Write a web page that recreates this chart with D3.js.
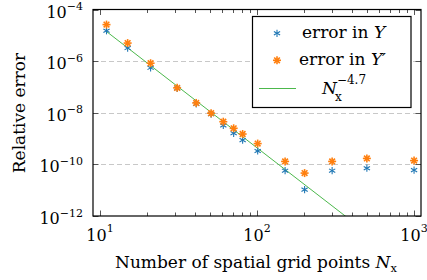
<!DOCTYPE html>
<html>
<head>
<meta charset="utf-8">
<script src="https://cdn.jsdelivr.net/npm/d3@7"></script>
<style>
  body { margin: 0; background: #fff; }
</style>
</head>
<body>
<svg id="chart" width="427" height="280"></svg>
<script>
// grid sizes and errors
var nPoints = [11, 15, 21, 31, 41, 51, 61, 71, 81, 101, 151, 201, 301, 501, 1001];
var errY = [1.5e-5, 3.2e-6, 5.5e-7, 8.7e-8, 2.2e-8, 8.8e-9, 3.2e-9, 1.6e-9, 8.7e-10, 3.3e-10, 5.7e-11, 1.05e-11, 5.7e-11, 7.1e-11, 6.0e-11];
var errYp = [2.6e-5, 5.0e-6, 8.3e-7, 9.2e-8, 2.4e-8, 9.6e-9, 4.5e-9, 2.5e-9, 1.5e-9, 6.4e-10, 1.3e-10, 4.6e-11, 1.3e-10, 1.7e-10, 1.4e-10];
var fitRange = [11, 1001];
var fitCoef = 1.1;
var fitOrder = -4.7;
var xMajor = [1, 2, 3];
var yMajor = [-4, -6, -8, -10, -12];
var yGrid = [-6, -8, -10];

var blue = "#1f77b4", orange = "#ff7f0e", green = "#4cb84c";
var serif = "DejaVu Serif";

var svg = d3.select("#chart");
var plotLeft = 93, plotRight = 421, plotTop = 9.5, plotBottom = 216;

var x = d3.scaleLog().domain([Math.pow(10, 0.9554), Math.pow(10, 3.0446)]).range([plotLeft, plotRight]);
var y = d3.scaleLog().domain([1e-12, 1e-4]).range([plotBottom, plotTop]);

// grid
svg.append("g").selectAll("line")
  .data(yGrid).enter().append("line")
    .attr("x1", plotLeft).attr("x2", plotRight)
    .attr("y1", function(d) { return Math.round(y(Math.pow(10, d))) + 0.5; })
    .attr("y2", function(d) { return Math.round(y(Math.pow(10, d))) + 0.5; })
    .attr("stroke", "#c8c8c8")
    .attr("stroke-width", 1)
    .attr("stroke-dasharray", "5,3");

// ticks
var minorX = [];
[1, 2].forEach(function(e) {
  for (var k = 2; k <= 9; k++) minorX.push(k * Math.pow(10, e));
});
minorX = minorX.filter(function(v) { return x(v) < plotRight; });

var ticks = svg.append("g").attr("stroke", "#555").attr("stroke-width", 1);
[plotBottom, plotTop].forEach(function(yy) {
  var dir = yy === plotBottom ? -1 : 1;
  xMajor.forEach(function(e) {
    var xx = Math.round(x(Math.pow(10, e))) + 0.5;
    ticks.append("line").attr("x1", xx).attr("x2", xx).attr("y1", yy).attr("y2", yy + dir * 5.5);
  });
  minorX.forEach(function(v) {
    var xx = Math.round(x(v)) + 0.5;
    ticks.append("line").attr("x1", xx).attr("x2", xx).attr("y1", yy).attr("y2", yy + dir * 3.5);
  });
});
[plotLeft, plotRight].forEach(function(xx) {
  var dir = xx === plotLeft ? 1 : -1;
  yMajor.forEach(function(e) {
    var yy = Math.round(y(Math.pow(10, e))) + 0.5;
    ticks.append("line").attr("x1", xx).attr("x2", xx + dir * 5.5).attr("y1", yy).attr("y2", yy);
  });
});

// fit line
svg.append("clipPath").attr("id", "plot-clip")
  .append("rect").attr("x", plotLeft).attr("y", plotTop)
  .attr("width", plotRight - plotLeft).attr("height", plotBottom - plotTop);

var fitLine = d3.line()
  .x(function(d) { return x(d); })
  .y(function(d) { return y(fitCoef * Math.pow(d, fitOrder)); });

svg.append("path")
  .datum(fitRange)
  .attr("clip-path", "url(#plot-clip)")
  .attr("fill", "none")
  .attr("stroke", green)
  .attr("stroke-width", 1)
  .attr("d", fitLine);

// markers
var asterisk = function(g, cx, cy, r, color, arms, width) {
  for (var i = 0; i < arms; i++) {
    var a = Math.PI / 2 + i * Math.PI / arms;
    g.append("line")
      .attr("x1", cx + r * Math.cos(a)).attr("y1", cy - r * Math.sin(a))
      .attr("x2", cx - r * Math.cos(a)).attr("y2", cy + r * Math.sin(a))
      .attr("stroke", color).attr("stroke-width", width);
  }
};

var marks = svg.append("g");
nPoints.forEach(function(n, i) {
  asterisk(marks, x(n), y(errY[i]), 3.6, blue, 3, 1.1);
});
nPoints.forEach(function(n, i) {
  asterisk(marks, x(n), y(errYp[i]), 4, orange, 4, 1.6);
  marks.append("circle").attr("cx", x(n)).attr("cy", y(errYp[i])).attr("r", 1.8).attr("fill", orange);
});

// frame
svg.append("rect")
  .attr("x", plotLeft).attr("y", plotTop)
  .attr("width", plotRight - plotLeft).attr("height", plotBottom - plotTop)
  .attr("fill", "none").attr("stroke", "#000").attr("stroke-width", 1.2);

// tick labels
var yLabels = svg.append("g");
yMajor.forEach(function(e) {
  var t = yLabels.append("text")
    .attr("x", 83).attr("y", y(Math.pow(10, e)) + 8)
    .attr("text-anchor", "end")
    .attr("font-family", serif)
    .style("font-size", "16px");
  t.append("tspan").text("10");
  t.append("tspan").attr("dy", -7.5).style("font-size", "11px").text("\u2212" + (-e));
});

var xLabels = svg.append("g");
xMajor.forEach(function(e) {
  var t = xLabels.append("text")
    .attr("x", x(Math.pow(10, e))).attr("y", 241)
    .attr("text-anchor", "middle")
    .attr("font-family", serif)
    .style("font-size", "16px");
  t.append("tspan").text("10");
  t.append("tspan").attr("dy", -9).style("font-size", "11px").text(e);
});

// axis titles
svg.append("text")
  .attr("transform", "translate(25,113) rotate(-90)")
  .attr("text-anchor", "middle")
  .attr("font-family", serif)
  .style("font-size", "17px")
  .text("Relative error");

var xt = svg.append("text")
  .attr("x", 256).attr("y", 268)
  .attr("text-anchor", "middle")
  .attr("font-family", serif)
  .style("font-size", "17px");
xt.append("tspan").text("Number of spatial grid points ");
xt.append("tspan").style("font-style", "italic").text("N");
xt.append("tspan").attr("dy", 4).style("font-size", "11.5px").text("x");

// legend
var legend = svg.append("g").attr("font-family", serif);
legend.append("rect")
  .attr("x", 252.5).attr("y", 16.5).attr("width", 158.5).attr("height", 91)
  .attr("fill", "#fff").attr("stroke", "#000").attr("stroke-width", 1.2);

asterisk(legend, 277, 33.3, 3.6, blue, 3, 1.1);
asterisk(legend, 277, 60.3, 4, orange, 4, 1.6);
legend.append("circle").attr("cx", 277).attr("cy", 60.3).attr("r", 1.8).attr("fill", orange);
legend.append("line")
  .attr("x1", 259).attr("x2", 296).attr("y1", 88.5).attr("y2", 88.5)
  .attr("stroke", green).attr("stroke-width", 1.2);

var l1 = legend.append("text").attr("x", 302).attr("y", 38).style("font-size", "17px");
l1.append("tspan").text("error in ");
l1.append("tspan").style("font-style", "italic").text("Y");

var l2 = legend.append("text").attr("x", 299).attr("y", 65).style("font-size", "17px");
l2.append("tspan").text("error in ");
l2.append("tspan").style("font-style", "italic").text("Y\u2032");

var l3 = legend.append("text").attr("x", 322).attr("y", 94).style("font-size", "17px");
l3.append("tspan").style("font-style", "italic").text("N");
l3.append("tspan").attr("dy", -10).style("font-size", "12px").text("\u22124.7");
l3.append("tspan").attr("x", 335).attr("dy", 17).style("font-size", "12px").text("x");
</script>
</body>
</html>
